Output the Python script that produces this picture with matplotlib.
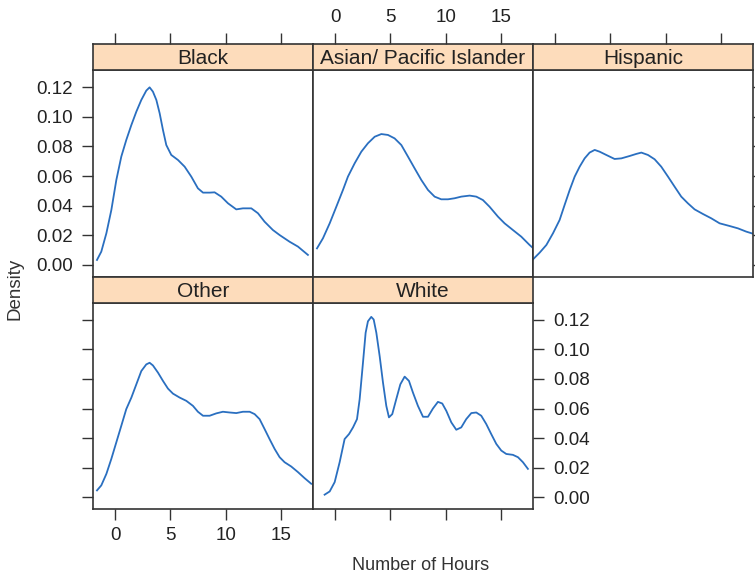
import matplotlib
matplotlib.use("Agg")
import matplotlib.pyplot as plt

# Density curves (hours, density)
black_x = [-1.64, -1.25, -0.79, -0.34, 0.11, 0.56, 1.01, 1.47, 1.92, 2.37, 2.82, 3.12, 3.42, 3.73,
           4.03, 4.33, 4.63, 5.08, 5.69, 6.29, 6.89, 7.49, 7.95, 8.55, 9.0, 9.6, 10.21, 10.96,
           11.56, 12.32, 12.92, 13.52, 14.27, 14.88, 15.78, 16.54, 17.44]
black_y = [0.0034, 0.0090, 0.0214, 0.0371, 0.0573, 0.0731, 0.0843, 0.0944, 0.1034, 0.1113, 0.1176,
           0.1198, 0.1169, 0.1113, 0.1023, 0.0910, 0.0809, 0.0742, 0.0708, 0.0663, 0.0596, 0.0517,
           0.0488, 0.0488, 0.0490, 0.0461, 0.0416, 0.0375, 0.0382, 0.0382, 0.0349, 0.0292, 0.0236,
           0.0202, 0.0157, 0.0124, 0.0068]

asian_x = [-1.64, -1.10, -0.49, 0.11, 0.71, 1.16, 1.77, 2.37, 2.97, 3.58, 4.18, 4.78, 5.38, 5.99,
           6.59, 7.19, 7.80, 8.40, 9.0, 9.6, 10.21, 10.81, 11.41, 12.17, 12.77, 13.37, 13.97,
           14.73, 15.33, 16.08, 16.84, 17.59, 17.83]
asian_y = [0.0112, 0.0180, 0.0281, 0.0393, 0.0506, 0.0596, 0.0686, 0.0764, 0.0821, 0.0865, 0.0883,
           0.0877, 0.0854, 0.0809, 0.0731, 0.0652, 0.0573, 0.0506, 0.0461, 0.0443, 0.0443, 0.0450,
           0.0461, 0.0468, 0.0461, 0.0438, 0.0393, 0.0326, 0.0281, 0.0236, 0.0191, 0.0135, 0.0119]

hisp_x = [-2.0, -1.40, -0.79, -0.19, 0.41, 0.86, 1.32, 1.77, 2.22, 2.67, 3.12, 3.58, 4.03, 4.63,
          5.38, 5.99, 6.74, 7.34, 7.80, 8.40, 9.0, 9.60, 10.21, 10.81, 11.41, 12.01, 12.62, 13.37,
          14.12, 14.88, 15.78, 16.54, 17.29, 18.07]
hisp_y = [0.0038, 0.0083, 0.0135, 0.0214, 0.0304, 0.0405, 0.0506, 0.0596, 0.0663, 0.0719, 0.0758,
          0.0776, 0.0764, 0.0742, 0.0715, 0.0719, 0.0735, 0.0749, 0.0758, 0.0742, 0.0713, 0.0663,
          0.0596, 0.0528, 0.0461, 0.0416, 0.0375, 0.0344, 0.0315, 0.0281, 0.0263, 0.0247, 0.0225,
          0.0207]

other_x = [-1.64, -1.25, -0.79, -0.34, 0.11, 0.56, 1.01, 1.47, 1.92, 2.37, 2.82, 3.12, 3.42, 3.88,
           4.33, 4.78, 5.23, 5.84, 6.44, 7.04, 7.49, 7.95, 8.55, 9.15, 9.75, 10.36, 10.96, 11.56,
           12.17, 12.62, 13.07, 13.52, 13.97, 14.43, 14.88, 15.33, 15.93, 16.54, 17.14, 17.74]
other_y = [0.0045, 0.0079, 0.0157, 0.0259, 0.0371, 0.0483, 0.0596, 0.0674, 0.0764, 0.0854, 0.0899,
           0.0910, 0.0892, 0.0843, 0.0787, 0.0735, 0.0701, 0.0674, 0.0652, 0.0618, 0.0578, 0.0551,
           0.0551, 0.0567, 0.0578, 0.0573, 0.0569, 0.0578, 0.0578, 0.0562, 0.0528, 0.0461, 0.0393,
           0.0326, 0.0270, 0.0236, 0.0207, 0.0169, 0.0128, 0.0090]

white_x = [-0.95, -0.49, -0.04, 0.41, 0.86, 1.26, 1.62, 1.98, 2.22, 2.52, 2.76, 2.97, 3.27, 3.49,
           3.73, 4.03, 4.33, 4.63, 4.87, 5.17, 5.53, 5.90, 6.29, 6.68, 7.04, 7.49, 7.95, 8.40,
           8.85, 9.30, 9.69, 10.06, 10.51, 10.96, 11.41, 11.86, 12.32, 12.77, 13.22, 13.67, 14.12,
           14.58, 15.03, 15.48, 16.08, 16.54, 16.99, 17.44]
white_y = [0.0016, 0.0038, 0.0101, 0.0236, 0.0393, 0.0427, 0.0472, 0.0528, 0.0663, 0.0910, 0.1113,
           0.1191, 0.1221, 0.1203, 0.1113, 0.0955, 0.0776, 0.0618, 0.0540, 0.0562, 0.0663, 0.0764,
           0.0816, 0.0787, 0.0708, 0.0618, 0.0544, 0.0544, 0.0600, 0.0645, 0.0634, 0.0584, 0.0506,
           0.0456, 0.0472, 0.0528, 0.0569, 0.0573, 0.0551, 0.0495, 0.0427, 0.0360, 0.0315, 0.0292,
           0.0286, 0.0270, 0.0236, 0.0191]

groups = ["Black", "Asian/ Pacific Islander", "Hispanic", "Other", "White"]
xs = [black_x, asian_x, hisp_x, other_x, white_x]
ys = [black_y, asian_y, hisp_y, other_y, white_y]

x_ticks = [0, 5, 10, 15]
y_ticks = [0.00, 0.02, 0.04, 0.06, 0.08, 0.10, 0.12]
y_labels = ["0.00", "0.02", "0.04", "0.06", "0.08", "0.10", "0.12"]

plt.rcParams['font.family'] = ['Liberation Sans', 'DejaVu Sans']

W, H = 755, 576
fig = plt.figure(figsize=(W / 100, H / 100), dpi=100)

xlim = (-2.0, 17.9)
ylim = (-0.0081, 0.1315)
strip_col = '#fddcbb'
line_col = '#2a6fc0'
frame_col = '#333333'
text_col = '#222222'

col_left = [93, 313, 533]
col_w = 220
rows = [(44, 70, 277), (277, 303, 509)]  # strip top, plot top, plot bottom


def px_axes(x0, y0, x1, y1):
    """Add axes from pixel box (top-left origin)."""
    return fig.add_axes([x0 / W, 1 - y1 / H, (x1 - x0) / W, (y1 - y0) / H])


def style_ticks(ax):
    ax.tick_params(direction='out', length=8, width=1.0, color=frame_col,
                   labelsize=13.5, pad=6.5, labelcolor=text_col)
    for s in ax.spines.values():
        s.set_color(frame_col)
        s.set_linewidth(1.2)


for k, name in enumerate(groups):
    r, c = divmod(k, 3)
    s_top, p_top, p_bot = rows[r]
    x0 = col_left[c]
    x1 = x0 + col_w

    ax = px_axes(x0, p_top, x1, p_bot)
    ax.plot(xs[k], ys[k], color=line_col, lw=1.3, solid_joinstyle='round')
    ax.set_xlim(*xlim)
    ax.set_ylim(*ylim)
    ax.set_xticks(x_ticks)
    ax.set_yticks(y_ticks)
    style_ticks(ax)

    # y axis: left on col 0, right on last panel of each row
    ax.tick_params(axis='y', left=(c == 0), right=(c == 2 or k == 4),
                   labelleft=(k == 0), labelright=(k == 4))
    if k == 0 or k == 4:
        ax.set_yticklabels(y_labels)
    # x axis: bottom ticks only on bottom row
    ax.tick_params(axis='x', top=False, bottom=(r == 1), labeltop=False,
                   labelbottom=(k == 3), pad=5)

    sax = px_axes(x0, s_top, x1, p_top)
    sax.set_facecolor(strip_col)
    sax.set_xlim(*xlim)
    sax.set_xticks(x_ticks if r == 0 else [])
    sax.set_yticks([])
    style_ticks(sax)
    sax.tick_params(axis='x', top=(r == 0), bottom=False,
                    labeltop=(k == 1), labelbottom=False, pad=5)
    sax.text(0.5, 0.45, name, transform=sax.transAxes, ha='center',
             va='center', fontsize=15, color=text_col)

fig.text(15 / W, 1 - 289 / H, "Density", rotation=90, ha='center',
         va='center', fontsize=13.5, color='#333333')
fig.text(421 / W, 1 - 566 / H, "Number of Hours", ha='center',
         va='center', fontsize=13, color='#333333')

fig.savefig("out.png", dpi=100)
